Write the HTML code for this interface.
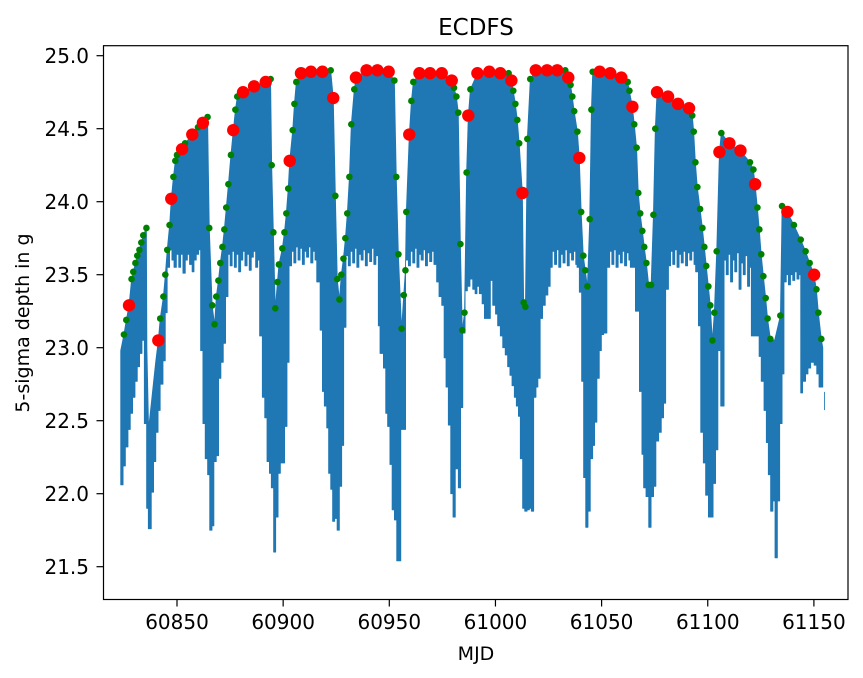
<!DOCTYPE html>
<html><head><meta charset="utf-8"><style>
html,body{margin:0;padding:0;background:#fff;}
svg{display:block;font-family:"DejaVu Sans","Liberation Sans",sans-serif;}
</style></head><body>
<svg id="chart" width="863" height="678" viewBox="0 0 863 678" xmlns="http://www.w3.org/2000/svg">
<rect width="863" height="678" fill="#fff"/>
<text x="476" y="35" font-size="23" text-anchor="middle">ECDFS</text>
<text x="476" y="660" font-size="19" text-anchor="middle">MJD</text>
<text x="0" y="0" font-size="19" text-anchor="middle" transform="translate(29,323) rotate(-90)">5-sigma depth in g</text>
<g id="plot"></g>
<g id="axes"></g>
</svg>
<script>
// ---- data ----
const xTicks = [60850, 60900, 60950, 61000, 61050, 61100, 61150];
const yTicks = [21.5, 22.0, 22.5, 23.0, 23.5, 24.0, 24.5, 25.0];

const greenMjd = [60825.0,60826.1,60828.6,60829.4,60830.4,60831.3,60832.3,60833.2,60834.1,60835.6,
60842.1,60843.6,60844.5,60845.4,60846.5,60848.3,60849.2,60850.0,60853.8,60859.9,60864.4,
60865.2,60866.6,60867.7,60868.5,60869.5,60870.4,60871.4,60872.3,60873.2,60874.2,60875.4,60877.5,60878.4,60894.1,
60894.6,60895.4,60896.3,60897.3,60898.0,60899.6,60900.6,60901.5,60902.4,
60904.5,60905.3,60906.2,60922.4,60924.6,60925.5,60926.5,60927.4,60928.4,60929.3,60930.2,60931.2,60932.1,60933.5,
60952.4,60953.3,60954.3,60955.8,60956.8,60957.6,60958.0,60960.4,60961.3,60980.5,60981.6,60982.5,60983.5,60984.4,60985.4,60986.4,60988.2,
61006.2,61008.4,61009.4,61010.3,61011.2,61013.3,61014.1,61015.0,61016.4,61032.9,61035.4,61036.2,61037.1,61038.6,
61040.4,61041.4,61042.3,61043.3,61044.4,61045.2,61045.8,61062.3,61063.1,61065.4,61066.5,61067.3,61068.2,61069.2,61070.1,61071.1,61072.2,61073.3,61074.4,61075.3,
61092.7,61093.4,61094.2,61095.1,61096.4,61097.5,61098.4,61099.3,61100.3,61101.2,61102.2,61103.1,61104.2,61106.4,61119.9,61121.5,
61123.4,61124.3,61125.2,61126.2,61127.3,61128.2,61129.5,61134.2,61135.0,61140.6,61143.8,61146.1,61148.0,61151.2,61152.1,61153.5];
const greenMag = [23.09,23.19,23.47,23.52,23.58,23.63,23.67,23.72,23.77,23.82,
23.20,23.35,23.50,23.67,23.84,24.17,24.28,24.32,24.40,24.51,24.58,
23.82,23.29,23.16,23.35,23.46,23.58,23.69,23.81,23.96,24.12,24.32,24.63,24.72,24.84,
24.25,23.79,23.27,23.45,23.57,23.68,23.79,23.92,24.09,
24.49,24.67,24.82,24.90,24.04,23.47,23.33,23.50,23.61,23.75,23.92,24.17,24.53,24.77,
24.83,24.17,23.64,23.13,23.36,23.53,23.93,24.69,24.82,24.78,24.72,24.61,23.71,23.12,23.24,24.20,24.77,
24.88,24.76,24.67,24.56,24.40,23.31,23.28,24.43,24.84,24.90,24.80,24.72,24.62,24.48,
23.93,23.63,23.53,23.42,23.88,24.63,24.89,24.82,24.76,24.53,24.37,24.06,23.92,23.80,23.69,23.58,23.43,23.43,23.91,24.50,
24.59,24.48,24.27,24.10,23.95,23.82,23.69,23.56,23.42,23.29,23.05,23.24,23.66,24.47,24.27,24.22,
23.96,23.81,23.64,23.49,23.34,23.20,23.06,23.22,23.97,23.84,23.74,23.66,23.58,23.40,23.24,23.06];

const redMjd = [60827.4,60841.2,60847.3,60852.4,60857.2,60862.2,60876.5,60881.1,60886.3,60891.8,60903.1,60908.4,60913.1,60918.5,60923.6,
60934.3,60939.3,60944.4,60949.7,60959.4,60964.2,60969.2,60974.7,60979.4,60987.2,60991.5,60997.1,61002.3,61007.5,61012.7,
61019.0,61024.3,61029.1,61034.3,61039.5,61049.1,61054.1,61059.3,61064.5,61076.1,61081.3,61086.0,61091.2,61105.5,61110.2,61115.4,61122.3,61137.5,61150.1];
const redMag = [23.29,23.05,24.02,24.36,24.46,24.54,24.49,24.75,24.79,24.82,24.28,24.88,24.89,24.89,24.71,
24.85,24.90,24.90,24.89,24.46,24.88,24.88,24.88,24.83,24.59,24.88,24.89,24.88,24.83,24.06,
24.90,24.90,24.90,24.85,24.30,24.89,24.88,24.85,24.65,24.75,24.72,24.67,24.64,24.34,24.40,24.35,24.12,23.93,23.50];

// extra blue-column tops not marked by dots
const extraTopMjd = [60823.5,60835.8,60836.6,60837.9,60839.0,60840.0,61131.5,61154.2];
const extraTopMag = [22.98,23.00,22.45,22.62,22.77,22.91,23.05,23.00];

// bottom envelope of the blue columns (step starts)
const botMjd = [60823.5,60824.6,60825.7,60826.9,60828.0,60829.1,60830.2,60831.3,60832.4,60833.5,60834.6,60835.7,60836.5,
60837.9,60839.0,60840.0,60841.1,60842.1,60843.4,60844.5,60845.4,60846.5,60847.6,60848.6,60849.7,60850.8,60851.7,60852.8,60853.9,60854.9,60855.9,60857.1,60858.0,60859.1,60860.2,
60861.1,60862.2,60863.3,60864.4,60865.4,60866.5,60867.4,60868.5,60869.6,60870.7,60871.8,60872.9,60874.0,
60875.0,60876.0,60877.0,60878.0,60879.0,60880.0,60881.0,60882.0,60883.0,60884.0,60885.0,60886.0,60887.0,60888.0,
60888.9,60890.2,60891.3,60892.4,60893.5,60894.4,60895.5,60896.5,60897.6,60898.7,60899.6,60900.7,60901.8,60902.8,
60904.0,60905.0,60906.0,60907.0,60908.0,60909.0,60910.0,60911.0,60912.0,60913.0,60914.0,60915.0,
60915.8,60917.4,60918.5,60919.4,60920.5,60921.4,60922.4,60923.3,60924.3,60925.4,60926.5,60927.6,60928.5,60929.6,
60930.7,60931.7,60932.7,60933.7,60934.7,60935.7,60936.7,60937.7,60938.7,60939.7,60940.7,60941.7,60942.7,60943.7,
60944.8,60945.6,60947.2,60948.3,60949.2,60950.3,60951.3,60952.4,60953.5,60954.5,60955.4,60956.6,60957.7,
60959.0,60960.0,60961.0,60962.0,60963.0,60964.0,60965.0,60966.0,60967.0,60968.0,60969.0,60970.0,60971.0,
60972.3,60973.4,60974.7,60975.8,60976.7,60977.8,60978.9,60980.0,60981.1,60982.5,60983.6,60984.6,60985.7,60986.8,60988.0,60989.3,60990.4,
60991.3,60992.4,60993.7,60994.8,60996.0,60997.6,60998.7,61000.0,61001.0,61002.3,61003.4,61004.6,61005.7,61006.8,61007.8,61008.9,61009.8,61010.8,61011.7,61012.8,61013.8,61014.9,61016.0,61016.9,
61018.0,61019.1,61020.0,61021.1,61022.2,61023.5,61024.7,
61025.8,61026.8,61027.8,61028.8,61029.8,61030.8,61031.8,61032.8,61033.8,61034.8,61035.8,61036.8,61037.8,
61038.4,61039.5,61040.6,61041.5,61042.5,61043.6,61044.7,61045.8,61046.7,61047.8,61048.9,61049.9,61051.0,
61052.5,61053.8,61054.8,61055.8,61056.8,61057.8,61058.8,61059.8,61060.8,61061.8,61062.8,
61063.5,61065.9,61067.8,61069.0,61069.8,61070.9,61072.2,61073.3,61074.5,61075.6,61076.9,61078.1,61079.2,
61080.2,61081.5,61082.5,61083.5,61084.5,61085.5,61086.5,61087.5,61088.5,61089.5,61090.5,61091.5,61092.5,61093.5,
61094.3,61095.6,61096.7,61097.9,61099.0,61100.3,61101.4,61102.5,61103.7,61104.8,61106.1,
61107.7,61108.7,61109.7,61110.7,61111.7,61112.7,61113.7,61114.7,61115.7,61116.7,61117.7,61118.7,61119.7,
61120.5,61124.2,61125.2,61126.5,61127.6,61128.5,61129.6,61130.7,61131.7,61132.8,61133.9,61135.0,
61135.9,61137.0,61138.0,61139.0,61140.0,61141.0,61142.0,61143.0,
61143.8,61144.7,61146.1,61147.2,61148.5,61150.1,61151.3,61152.4,61153.7,61154.2];
const botMag = [22.06,22.19,22.32,22.44,22.55,22.66,22.77,22.87,22.96,23.05,22.48,21.90,21.76,
22.01,22.22,22.42,22.57,22.75,22.91,23.24,23.55,23.67,23.60,23.55,23.64,23.55,23.64,23.51,23.60,23.64,23.57,23.52,23.60,23.64,23.67,
22.98,22.48,22.24,22.13,21.75,21.78,22.22,22.26,22.79,22.90,23.03,23.35,23.64,
23.56,23.66,23.55,23.64,23.52,23.60,23.66,23.56,23.64,23.53,23.62,23.66,23.55,23.60,
23.08,22.66,22.52,22.22,22.14,22.04,21.60,21.84,22.14,22.21,22.21,22.46,22.90,23.56,
23.66,23.58,23.69,23.60,23.68,23.57,23.66,23.62,23.69,23.58,23.66,23.60,
23.45,23.12,22.70,22.60,22.45,22.14,22.03,21.81,21.83,21.75,22.05,22.33,23.14,23.63,
23.56,23.66,23.58,23.68,23.55,23.64,23.60,23.67,23.56,23.65,23.59,23.68,23.57,23.63,
23.15,22.96,22.86,22.55,22.46,22.20,21.89,21.82,21.54,21.54,22.44,22.44,23.60,
23.56,23.66,23.58,23.68,23.55,23.64,23.60,23.67,23.56,23.65,23.59,23.66,23.57,
23.45,23.35,23.29,22.93,22.73,22.47,22.00,21.84,22.17,22.04,22.59,23.10,23.39,23.42,23.47,23.40,23.37,
23.42,23.37,23.30,23.20,23.20,23.46,23.29,23.23,23.15,23.08,23.00,22.95,22.87,22.81,22.74,22.66,22.60,22.53,22.24,21.90,21.88,21.89,21.90,21.88,
22.66,22.73,22.79,23.20,23.29,23.36,23.42,
23.55,23.66,23.57,23.67,23.55,23.64,23.58,23.67,23.56,23.65,23.60,23.66,23.57,
23.55,23.38,22.77,22.11,21.77,21.88,22.24,22.33,22.49,22.79,22.98,23.09,23.10,
23.55,23.66,23.57,23.67,23.55,23.64,23.58,23.66,23.56,23.65,23.60,
23.55,23.25,22.70,22.27,22.04,21.98,21.77,21.98,22.05,22.36,22.42,22.52,22.62,
23.40,23.56,23.66,23.57,23.67,23.55,23.64,23.58,23.66,23.56,23.65,23.60,23.66,23.57,
23.52,23.15,22.42,22.21,21.99,21.84,21.84,22.07,22.30,22.98,22.60,
23.60,23.50,23.64,23.45,23.60,23.52,23.65,23.40,23.58,23.50,23.63,23.42,23.55,
23.08,22.94,22.77,22.57,22.35,22.13,21.88,21.95,21.56,21.95,22.48,22.82,
23.45,23.50,23.43,23.50,23.46,23.52,23.47,23.50,
22.69,22.77,22.82,22.86,22.90,22.88,22.82,22.73,22.73,22.73];

// small separate trailing segment
const tailMjd = [61154.8, 61155.2];
const tailTop = [22.67, 22.67];
const tailBot = [22.60, 22.60];

// ---- axes ----
const X0 = 177, XS = 2.123, Y0 = 55.7, YS = 146;
const L = 103.5, R = 848, T = 45.7, B = 599.5;
function xs(m){ return X0 + (m - 60850) * XS; }
function ys(v){ return Y0 + (25 - v) * YS; }
const NS = "http://www.w3.org/2000/svg";
const plot = document.getElementById('plot');
const axes = document.getElementById('axes');
function mk(tag, attrs, parent){
  const e = document.createElementNS(NS, tag);
  for (const k in attrs) e.setAttribute(k, attrs[k]);
  parent.appendChild(e);
  return e;
}

const topPts = [];
for (let i = 0; i < greenMjd.length; i++) topPts.push([greenMjd[i], greenMag[i]]);
for (let i = 0; i < redMjd.length; i++) topPts.push([redMjd[i], redMag[i]]);
for (let i = 0; i < extraTopMjd.length; i++) topPts.push([extraTopMjd[i], extraTopMag[i]]);
topPts.sort((a, b) => a[0] - b[0]);
let d = '';
topPts.forEach((p, i) => { d += (i ? 'L' : 'M') + xs(p[0]).toFixed(1) + ',' + ys(p[1]).toFixed(1); });
for (let i = botMjd.length - 1; i >= 0; i--) {
  const xEnd = i < botMjd.length - 1 ? botMjd[i + 1] : botMjd[i];
  d += 'L' + xs(xEnd).toFixed(1) + ',' + ys(botMag[i]).toFixed(1);
  d += 'L' + xs(botMjd[i]).toFixed(1) + ',' + ys(botMag[i]).toFixed(1);
}
d += 'Z';
const blue = mk('path', {d: d, fill: '#1f77b4', stroke: '#1f77b4', 'stroke-width': '0.8', 'stroke-linejoin': 'round'}, plot);



const tail = mk('rect', {x: xs(tailMjd[0]), y: ys(tailTop[0]) - 4, width: xs(tailMjd[1]) - xs(tailMjd[0]), height: ys(tailBot[0]) - ys(tailTop[0]) + 8, fill: '#1f77b4'}, plot);



for (let i = 0; i < greenMjd.length; i++) {
  const c = mk('circle', {cx: xs(greenMjd[i]), cy: ys(greenMag[i]), r: 3.3, fill: '#008000'}, plot);
  
  
}
for (let i = 0; i < redMjd.length; i++) {
  const c = mk('circle', {cx: xs(redMjd[i]), cy: ys(redMag[i]), r: 6.2, fill: '#ff0000'}, plot);
  
  
}

const frame = mk('rect', {x: L, y: T, width: R - L, height: B - T, fill: 'none', stroke: '#000', 'stroke-width': 1.2}, axes);



xTicks.forEach(t => {
  const x = xs(t);
  const tk = mk('line', {x1: x, x2: x, y1: B, y2: B + 7, stroke: '#000', 'stroke-width': 1.2}, axes);
  
  
  const lb = mk('text', {x: x, y: 629, 'font-size': 20, 'text-anchor': 'middle'}, axes);
  lb.textContent = String(t);
  
  
});
yTicks.forEach(t => {
  const y = ys(t);
  const tk = mk('line', {x1: L - 7, x2: L, y1: y, y2: y, stroke: '#000', 'stroke-width': 1.2}, axes);
  
  
  const lb = mk('text', {x: 89, y: y + 7.5, 'font-size': 20, 'text-anchor': 'end'}, axes);
  lb.textContent = t.toFixed(1);
  
  
});
</script>
</body></html>
